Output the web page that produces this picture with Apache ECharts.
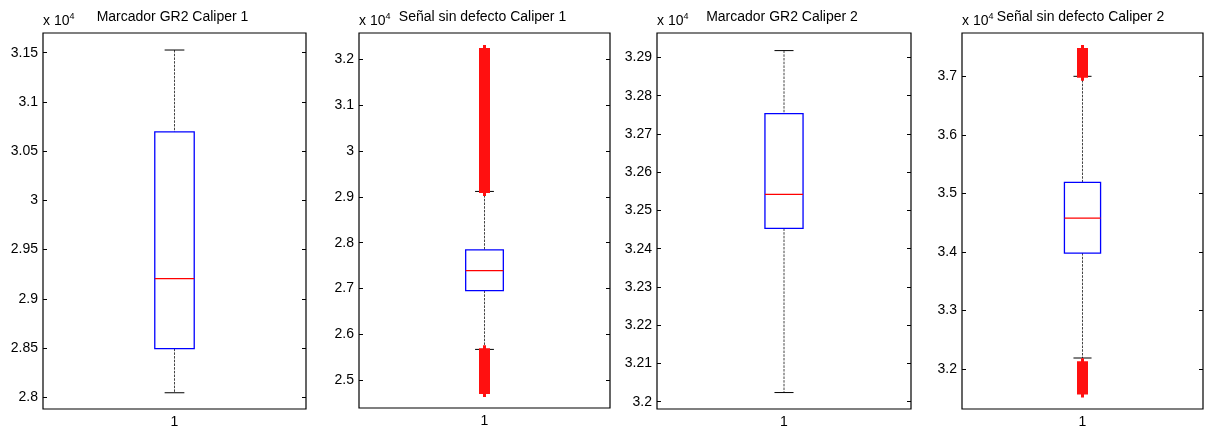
<!DOCTYPE html>
<html>
<head>
<meta charset="utf-8">
<script src="https://cdn.jsdelivr.net/npm/echarts@6/dist/echarts.min.js"></script>
<style>
  html, body { margin: 0; padding: 0; background: #fff; }
  #chart { width: 1208px; height: 430px; }
</style>
</head>
<body>
<div id="chart"></div>
<script>
// ---------- data ----------
const titles = ['Marcador GR2 Caliper 1', 'Señal sin defecto Caliper 1', 'Marcador GR2 Caliper 2', 'Señal sin defecto Caliper 2'];
const categories = ['1'];
// [lower whisker, Q1, median, Q3, upper whisker]
const box1 = [28045, 28493, 29205, 30696, 31527];
const box2 = [25670, 26954, 27390, 27842, 29120];
const box3 = [32024, 32453, 32542, 32753, 32918];
const box4 = [32188, 33981, 34579, 35189, 37000];
// outliers (dense '+' bands)
const outliers1 = [];
const outliers2 = [29130, 29185, 29240, 29305, 29370, 29425, 29490, 29550, 29605, 29660, 29730, 29790, 29845, 29910, 29965, 30030, 30085, 30150, 30210, 30265, 30330, 30385, 30440, 30510, 30570, 30625, 30680, 30750, 30810, 30865, 30930, 30990, 31045, 31100, 31170, 31230, 31285, 31350, 31405, 31460, 31530, 31590, 31645, 31700, 31770, 31825, 31880, 31950, 32010, 32065, 32120, 32170, 32210,
                   25650, 25585, 25510, 25445, 25380, 25315, 25250, 25180, 25115, 25050, 24985, 24920, 24855, 24790, 24740];
const outliers3 = [];
const outliers4 = [37010, 37060, 37105, 37160, 37210, 37255, 37310, 37360, 37405, 37450,
                   32100, 32045, 31995, 31950, 31895, 31845, 31800, 31745, 31700, 31650, 31600];
// y tick values (labels shown in units of 10^4)
const ticks1 = [28000, 28500, 29000, 29500, 30000, 30500, 31000, 31500];
const ticks2 = [25000, 26000, 27000, 28000, 29000, 30000, 31000, 32000];
const ticks3 = [32000, 32100, 32200, 32300, 32400, 32500, 32600, 32700, 32800, 32900];
const ticks4 = [32000, 33000, 34000, 35000, 36000, 37000];
// y axis limits
const range1 = [27880, 31700];
const range2 = [24390, 32580];
const range3 = [31981, 32964];
const range4 = [31317, 37740];

// ---------- layout ----------
const boxes = [box1, box2, box3, box4];
const outliers = [outliers1, outliers2, outliers3, outliers4];
const ticks = [ticks1, ticks2, ticks3, ticks4];
const ranges = [range1, range2, range3, range4];
const grids = [
  { left: 43, top: 33, width: 263, height: 376 },
  { left: 359, top: 33, width: 251, height: 375 },
  { left: 657, top: 33, width: 254, height: 376 },
  { left: 962, top: 33, width: 241, height: 376 }
];
const FONT = "'Liberation Sans', Arial, sans-serif";

function renderBox(params, api) {
  const xv = api.value(0);
  const lo = api.coord([xv, api.value(1)]);
  const q1 = api.coord([xv, api.value(2)]);
  const md = api.coord([xv, api.value(3)]);
  const q3 = api.coord([xv, api.value(4)]);
  const hi = api.coord([xv, api.value(5)]);
  const band = api.size([1, 0])[0];
  const bw = band * 0.15;
  const cw = bw * 0.5;
  const cx = lo[0];
  const wStyle = { stroke: '#444', lineWidth: 1, lineDash: [2.5, 1.2] };
  const cStyle = { stroke: '#000', lineWidth: 1 };
  return {
    type: 'group',
    children: [
      { type: 'line', shape: { x1: cx, y1: hi[1], x2: cx, y2: q3[1] }, style: wStyle },
      { type: 'line', shape: { x1: cx, y1: q1[1], x2: cx, y2: lo[1] }, style: wStyle },
      { type: 'line', shape: { x1: cx - cw / 2, y1: hi[1], x2: cx + cw / 2, y2: hi[1] }, style: cStyle },
      { type: 'line', shape: { x1: cx - cw / 2, y1: lo[1], x2: cx + cw / 2, y2: lo[1] }, style: cStyle },
      { type: 'rect', shape: { x: cx - bw / 2, y: q3[1], width: bw, height: q1[1] - q3[1] },
        style: { fill: 'none', stroke: '#0000ff', lineWidth: 1.3 } },
      { type: 'line', shape: { x1: cx - bw / 2, y1: md[1], x2: cx + bw / 2, y2: md[1] },
        style: { stroke: '#ff0000', lineWidth: 1.2 } }
    ]
  };
}

const option = {
  backgroundColor: '#fff',
  animation: false,
  title: [],
  grid: [],
  xAxis: [],
  yAxis: [],
  series: []
};

for (let i = 0; i < 4; i++) {
  const g = grids[i];
  option.title.push({
    text: titles[i],
    left: g.left + g.width / 2 - 2,
    top: 10,
    textAlign: 'center',
    padding: 0,
    textStyle: { fontSize: 14, fontWeight: 'normal', color: '#000', fontFamily: FONT }
  });
  option.grid.push({
    left: g.left, top: g.top, width: g.width, height: g.height,
    show: true, borderColor: '#000', borderWidth: 1.2, backgroundColor: '#fff'
  });
  option.xAxis.push({
    type: 'category', gridIndex: i, data: categories, boundaryGap: true,
    axisLine: { show: false }, axisTick: { show: false },
    axisLabel: { color: '#000', fontSize: 14, fontFamily: FONT, margin: 6 },
    splitLine: { show: false }
  });
  const fmt = v => String(v / 10000);
  option.yAxis.push({
    type: 'value', gridIndex: i, position: 'left',
    min: ranges[i][0], max: ranges[i][1],
    name: '{b|x 10}{s|4}',
    nameLocation: 'end', nameGap: 5,
    nameTextStyle: {
      align: 'left', verticalAlign: 'bottom',
      rich: {
        b: { fontSize: 14, color: '#000', fontFamily: FONT, lineHeight: 16, padding: [4, 0, 0, 0], verticalAlign: 'bottom' },
        s: { fontSize: 9, color: '#000', fontFamily: FONT, lineHeight: 10, verticalAlign: 'top' }
      }
    },
    axisLine: { show: false },
    axisTick: { show: true, inside: true, length: 4, customValues: ticks[i], lineStyle: { color: '#000' } },
    axisLabel: { show: true, customValues: ticks[i], formatter: fmt, color: '#000', fontSize: 14, fontFamily: FONT, margin: 5 },
    splitLine: { show: false }
  });
  option.yAxis.push({
    type: 'value', gridIndex: i, position: 'right',
    min: ranges[i][0], max: ranges[i][1],
    axisLine: { show: false },
    axisTick: { show: true, inside: true, length: 4, customValues: ticks[i], lineStyle: { color: '#000' } },
    axisLabel: { show: false },
    splitLine: { show: false }
  });
  option.series.push({
    type: 'custom', xAxisIndex: i, yAxisIndex: 2 * i,
    renderItem: renderBox,
    data: [[0].concat(boxes[i])],
    z: 3
  });
  if (outliers[i].length) {
    option.series.push({
      type: 'scatter', xAxisIndex: i, yAxisIndex: 2 * i,
      symbol: 'path://M4 0H7V3H11V7H7V10H4V7H0V3H4Z',
      symbolSize: [11, 10],
      itemStyle: { color: '#ff1010', opacity: 1 },
      data: outliers[i].map(v => [0, v]),
      z: 4
    });
  }
}

const chart = echarts.init(document.getElementById('chart'), null, { renderer: 'canvas' });
chart.setOption(option);
</script>
</body>
</html>
